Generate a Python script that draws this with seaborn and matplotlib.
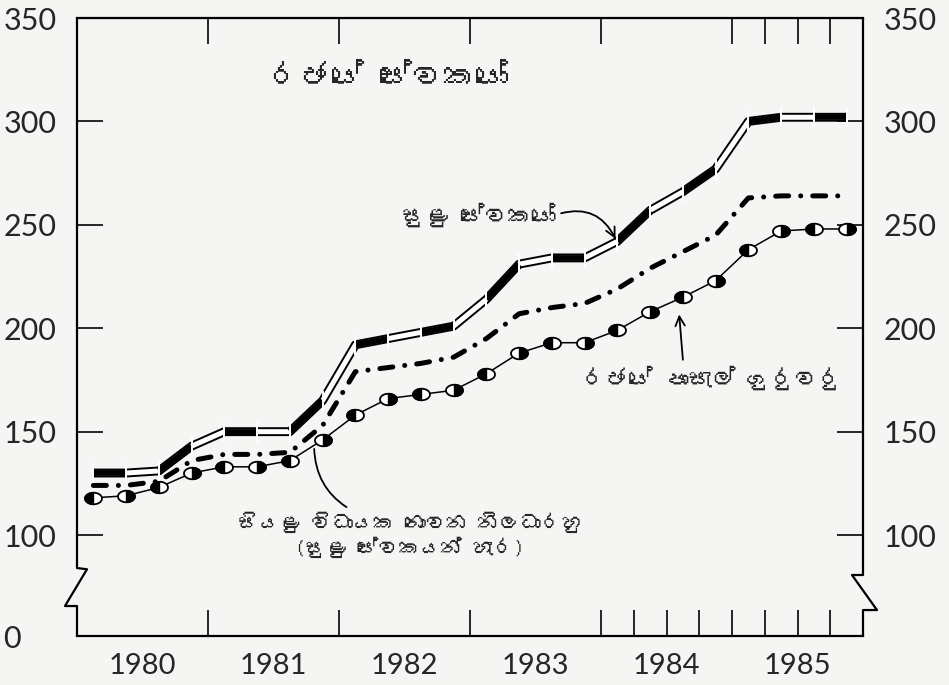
import numpy as np
import pandas as pd
import matplotlib as mpl
import matplotlib.pyplot as plt
from matplotlib import font_manager
from matplotlib.ft2font import FT2Font
from matplotlib.path import Path
import seaborn as sns

# values, one per quarter 1980 Q1 .. 1985 Q4
years = [1980, 1981, 1982, 1983, 1984, 1985]
minor_staff = [130, 130, 131, 143, 150, 150, 150, 165, 192, 195, 198, 201,
               214, 231, 234, 234, 242, 257, 266, 277, 300, 302, 302, 302]
officers = [124, 124, 126, 136, 139, 139, 140, 153, 179, 181, 183, 186,
            195, 207, 210, 212, 219, 229, 237, 245, 263, 264, 264, 264]
teachers = [118, 119, 123, 130, 133, 133, 136, 146, 158, 166, 168, 170,
            178, 188, 193, 193, 199, 208, 215, 223, 238, 247, 248, 248]

y_ticks = [100, 150, 200, 250, 300, 350]
title = "රජයේ සේවකයෝ"
lbl_minor = "සුළු සේවකයෝ"
lbl_teachers = "රජයේ පාසැල් ගුරුවරු"
lbl_officers = "සියළු විධායක නොවන නිලධාරහු\n(සුළු සේවකයන් හැර)"

BG = "#f5f5f3"
YMIN = 51.2  # where the broken axis starts ("0")


def find_sinhala_font():
    for f in font_manager.fontManager.ttflist:
        try:
            if 0x0DBB in FT2Font(f.fname).get_charmap():
                return f.name
        except Exception:
            pass
    return None


sns.set_style("white")
plt.rcParams["font.family"] = ["Lato", "DejaVu Sans"]
sin_font = find_sinhala_font()
sin_family = [sin_font, "DejaVu Sans"] if sin_font else ["DejaVu Sans"]

t = [y + (q + 0.5) / 4 for y in years for q in range(4)]
df = pd.DataFrame({"t": t, "minor": minor_staff, "officers": officers, "teachers": teachers})

fig = plt.figure(figsize=(9.49, 6.85), dpi=100, facecolor=BG)
ax = fig.add_axes([77 / 949, 49 / 685, 786 / 949, 618 / 685])
ax.set_facecolor(BG)

# minor employees: hollow double line with black quarter blocks
sns.lineplot(data=df, x="t", y="minor", color="black", lw=6.4, ax=ax,
             solid_capstyle="butt", zorder=3)
sns.lineplot(data=df, x="t", y="minor", color="white", lw=3.6, ax=ax,
             solid_capstyle="butt", zorder=4)
seg_rows = []
for k in range(0, len(t) - 1, 2):
    seg_rows.append({"seg": k, "t": t[k], "v": minor_staff[k]})
    seg_rows.append({"seg": k, "t": t[k + 1], "v": minor_staff[k + 1]})
seg_df = pd.DataFrame(seg_rows)
sns.lineplot(data=seg_df, x="t", y="v", units="seg", estimator=None, color="black",
             lw=4.2, ax=ax, solid_capstyle="butt", zorder=5)
sns.lineplot(data=df, x="t", y="minor", color="black", marker="|", markersize=14,
             mew=1.4, linestyle="none", ax=ax, zorder=6)

# non-executive officers: dash-dot
sns.lineplot(data=df, x="t", y="officers", color="black", lw=3.6, ax=ax,
             linestyle=(0, (2.6, 2.4, 0.01, 2.4)), dash_capstyle="round", zorder=3)

# teachers: thin line with half-filled ovals
ang = np.linspace(0, 2 * np.pi, 61)
oval = Path(np.column_stack([np.cos(ang), 0.68 * np.sin(ang)]))
ang_l = np.linspace(np.pi / 2, 3 * np.pi / 2, 31)
half_l = Path(np.vstack([np.column_stack([np.cos(ang_l), 0.68 * np.sin(ang_l)]), [[0, 0.68]]]))
half_r = Path(np.vstack([np.column_stack([-np.cos(ang_l), 0.68 * np.sin(ang_l)]), [[0, 0.68]]]))

sns.lineplot(data=df, x="t", y="teachers", color="black", lw=1.1, ax=ax, zorder=3)
sns.scatterplot(data=df, x="t", y="teachers", marker=oval, s=150, color="white",
                edgecolor="black", linewidth=1.3, ax=ax, zorder=4)
sns.scatterplot(data=df.iloc[0::2], x="t", y="teachers", marker=half_l, s=150,
                color="black", edgecolor="black", linewidth=1.0, ax=ax, zorder=5)
sns.scatterplot(data=df.iloc[1::2], x="t", y="teachers", marker=half_r, s=150,
                color="black", edgecolor="black", linewidth=1.0, ax=ax, zorder=5)

ax.set_xlim(1980, 1986)
ax.set_ylim(YMIN, 350)
ax.set_xlabel("")
ax.set_ylabel("")

# bottom axis: year ticks, quarter ticks for the last two years, labels mid-year
ax.xaxis.remove_overlapping_locs = False
bottom_ticks = [1981, 1982, 1983, 1984, 1984.25, 1984.5, 1984.75,
                1985, 1985.25, 1985.5, 1985.75]
ax.set_xticks(bottom_ticks, labels=[""] * len(bottom_ticks))
ax.set_xticks([y + 0.5 for y in years], labels=[str(y) for y in years], minor=True)
ax.tick_params(axis="x", which="major", bottom=True, direction="in", length=19, width=1.4)
ax.tick_params(axis="x", which="minor", bottom=True, length=0, pad=12, labelsize=21)

ax.set_yticks([YMIN] + y_ticks, labels=["0"] + [str(v) for v in y_ticks])
ax.tick_params(axis="y", left=True, direction="in", length=19, width=1.4, pad=53,
               labelsize=22)
for lab in ax.get_yticklabels():
    lab.set_horizontalalignment("left")

top = ax.secondary_xaxis("top")
top.set_xticks([1981, 1982, 1983, 1984, 1985, 1985.25, 1985.5, 1985.75],
               labels=[""] * 8)
top.tick_params(top=True, direction="in", length=19, width=1.4)

right = ax.secondary_yaxis("right")
right.set_yticks(y_ticks, labels=[str(v) for v in y_ticks])
right.tick_params(right=True, direction="in", length=19, width=1.4, pad=15, labelsize=22)
right.spines["right"].set_visible(False)

for side in ["top", "bottom"]:
    ax.spines[side].set_linewidth(1.6)
    ax.spines[side].set_color("black")
ax.spines["left"].set_visible(False)
ax.spines["right"].set_visible(False)

# broken-axis spines
ax.plot([0, 0, 0.0127, -0.0153, 0, 0], [1, 0.110, 0.108, 0.0485, 0.0485, 0],
        transform=ax.transAxes, clip_on=False, color="black", lw=1.6, zorder=10)
ax.plot([1, 1, 0.986, 1.0178, 1, 1], [1, 0.0987, 0.0987, 0.042, 0.042, 0],
        transform=ax.transAxes, clip_on=False, color="black", lw=1.6, zorder=10)

# text
ax.text(1982.374, 321.5, title, family=sin_family, fontsize=23, fontweight="bold",
        ha="center", va="center")
ax.annotate(lbl_minor, xy=(1984.12, 242), xytext=(1983.65, 254.7), family=sin_family,
            fontsize=17, fontweight="bold", ha="right", va="center",
            arrowprops=dict(arrowstyle="->", color="black", lw=1.3,
                            connectionstyle="arc3,rad=-0.45", relpos=(1, 0.5)))
ax.annotate(lbl_teachers, xy=(1984.595, 208), xytext=(1984.847, 175.9), family=sin_family,
            fontsize=17, fontweight="bold", ha="center", va="center",
            arrowprops=dict(arrowstyle="->", color="black", lw=1.3, relpos=(0.39, 1)))
ax.annotate(lbl_officers, xy=(1981.81, 143), xytext=(1982.54, 100), family=sin_family,
            fontsize=15, fontweight="bold", ha="center", va="center", multialignment="center",
            arrowprops=dict(arrowstyle="-", color="black", lw=1.3, relpos=(0.34, 1),
                            connectionstyle="arc3,rad=-0.3"))

fig.savefig("out.png", dpi=100, facecolor=BG)
